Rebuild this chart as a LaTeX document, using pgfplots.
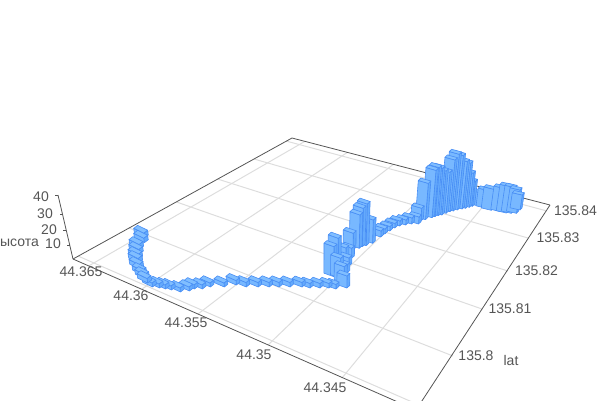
\documentclass[border=0pt]{standalone}
\usepackage{fontspec}
\setmainfont{Liberation Sans}
\usepackage{pgfplots}
\usepackage{pgfplotstable}
\pgfplotsset{compat=1.18}
\definecolor{gridc}{RGB}{221,221,221}
\definecolor{axisc}{RGB}{85,85,85}
\definecolor{txtc}{RGB}{85,85,85}
\definecolor{edgec}{RGB}{72,142,245}
\definecolor{facea}{RGB}{120,184,255}
\definecolor{faceb}{RGB}{100,170,252}
\definecolor{facec}{RGB}{128,190,255}
\tikzset{tl/.style={font=\fontsize{14}{16}\selectfont,text=txtc,inner sep=0pt}}
% bars in draw order: x, y of the nearest base corner on the picture, height
\pgfplotstableread{
x y h
480 206 13.3
488.3 208.3 17.7
494 210.3 21
504 211.7 23.3
510 213 26.3
515 213.3 25.7
520 213.3 23.3
522.3 210 15
475.3 206.3 24.7
473.3 207.3 34
470.7 208.3 45
467.3 209 47.3
463.3 210 54.3
459.3 211 56.7
455 211.7 51.7
450 213.3 41
446 215 44
442.7 215.7 47.3
439.3 216.7 49
436 217.7 47.3
428.3 219.7 36.3
421.7 221 12.7
419 224 7
412 224 6
406 225 5
400 226 5
395 228 4.5
390 231 4.5
385 234 5
381 237 6
373.3 243.3 23.3
367.3 245.7 41.7
363.3 246.7 38.3
360 248.3 33.3
353.3 250 16.7
351.7 258.3 10
346 258 10
349 266 8
347 273 8
338.3 270 31.7
334 276.7 30
340.7 278.3 20
344.3 283 16.3
347 288 12
336 289 4.5
329 288 4.5
320 288 4.5
310 288 4.5
302 287 4.5
290 287 4.5
279 287 4.5
269 287 4.5
258 287 4.5
246 287 4.5
236 285 4.5
224 287 4
210 287 4
202 289 4
194 289 4
189 291 4
180 292 4
171 290 4
165 289 4
159 288 4
152 287 4
143.7 237.7 4.5
143.7 242.7 4.5
139 249 4.5
138.7 254 4.5
138 259 4.5
138 263 4.5
139 269 4.5
142 275 4.5
144.7 279 4.5
147 283 4.5
}\bars
\newcommand{\gridl}[4]{\addplot[gridc,line width=1pt] coordinates {(#1,#2) (#3,#4)};}
\newcommand{\axl}[4]{\addplot[axisc,line width=0.8pt] coordinates {(#1,#2) (#3,#4)};}
\begin{document}
\begin{tikzpicture}
\path[use as bounding box,clip] (0,0) rectangle (600pt,400pt);
\begin{axis}[
  scale only axis,width=600pt,height=400pt,
  xmin=0,xmax=600,ymin=0,ymax=400,y dir=reverse,
  hide axis,clip=true,
]
% floor grid
\gridl{286}{141}{547}{211}
\gridl{254}{159}{528}{238}
\gridl{217.5}{179}{508}{271}
\gridl{176.6}{202}{482}{309}
\gridl{129}{228}{453}{356}
\gridl{78}{256}{419}{405}
\gridl{305}{141.3}{88.6}{266}
\gridl{347.3}{152.4}{142}{289}
\gridl{393.3}{164.4}{198}{314}
\gridl{442.6}{177}{268}{345}
\gridl{495.7}{191}{342}{378}
% box edges
\axl{73}{259}{292}{138}
\axl{292}{138}{550}{205}
\axl{550}{205}{416}{410}
\axl{73}{259}{416}{410}
\axl{73}{259}{58}{195}
\axl{58}{195}{55}{195}
\axl{62.5}{214}{59.5}{214}
\axl{66.2}{230}{63.2}{230}
\axl{69.7}{245}{66.7}{245}
% bars
\pgfplotstablegetrowsof{\bars}
\pgfmathtruncatemacro{\nrows}{\pgfplotsretval-1}
\foreach \i in {0,...,\nrows}{
  \pgfplotstablegetelem{\i}{x}\of{\bars}\let\bx\pgfplotsretval
  \pgfplotstablegetelem{\i}{y}\of{\bars}\let\by\pgfplotsretval
  \pgfplotstablegetelem{\i}{h}\of{\bars}\let\bh\pgfplotsretval
  \pgfmathsetmacro{\eux}{10}
  \pgfmathsetmacro{\euy}{5-(\bx-130)*0.007}
  \pgfmathsetmacro{\evx}{-(4-(\bx-130)*0.005)}
  \pgfmathsetmacro{\evy}{3-(\bx-130)*0.002}
  \pgfmathsetmacro{\fx}{\bx-(\bx-330)*0.0008*\bh}
  \pgfmathsetmacro{\ty}{\by-\bh}
  \pgfmathsetmacro{\lxb}{\fx-\eux}\pgfmathsetmacro{\lyb}{\by-\euy}
  \pgfmathsetmacro{\rxb}{\fx-\evx}\pgfmathsetmacro{\ryb}{\by-\evy}
  \pgfmathsetmacro{\lxt}{\bx-\eux}\pgfmathsetmacro{\lyt}{\ty-\euy}
  \pgfmathsetmacro{\rxt}{\bx-\evx}\pgfmathsetmacro{\ryt}{\ty-\evy}
  \pgfmathsetmacro{\bxt}{\bx-\eux-\evx}\pgfmathsetmacro{\byt}{\ty-\euy-\evy}
  \edef\temp{
    \noexpand\addplot[draw=edgec,fill=faceb,line width=0.6pt,line join=round] coordinates {(\fx,\by) (\rxb,\ryb) (\rxt,\ryt) (\bx,\ty) (\fx,\by)};
    \noexpand\addplot[draw=edgec,fill=facea,line width=0.6pt,line join=round] coordinates {(\fx,\by) (\lxb,\lyb) (\lxt,\lyt) (\bx,\ty) (\fx,\by)};
    \noexpand\addplot[draw=edgec,fill=facec,line width=0.6pt,line join=round] coordinates {(\bx,\ty) (\lxt,\lyt) (\bxt,\byt) (\rxt,\ryt) (\bx,\ty)};
  }\temp
}
% labels
\node[tl,anchor=east] at (axis cs:49,197) {40};
\node[tl,anchor=east] at (axis cs:53,213.5) {30};
\node[tl,anchor=east] at (axis cs:57,229.5) {20};
\node[tl,anchor=east] at (axis cs:61,244) {10};
\node[tl] at (axis cs:81,272) {44.365};
\node[tl] at (axis cs:131,296) {44.36};
\node[tl] at (axis cs:186,323) {44.355};
\node[tl] at (axis cs:254,355) {44.35};
\node[tl] at (axis cs:325,388) {44.345};
\node[tl] at (axis cs:575.5,211) {135.84};
\node[tl] at (axis cs:558,238) {135.83};
\node[tl] at (axis cs:536.5,271) {135.82};
\node[tl] at (axis cs:510,309) {135.81};
\node[tl] at (axis cs:476,356) {135.8};
\node[tl] at (axis cs:511,360) {lat};
\end{axis}
\node[tl,anchor=east] at (39pt,157pt) {высота};
\end{tikzpicture}
\end{document}
